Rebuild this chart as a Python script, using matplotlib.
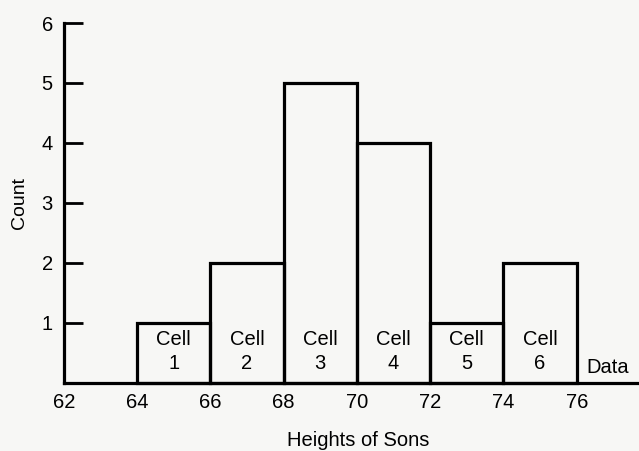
import matplotlib.pyplot as plt
import numpy as np

# ── Data ────────────────────────────────────────────────────────────────────
bin_edges = [64, 66, 68, 70, 72, 74, 76]
counts = [1, 2, 5, 4, 1, 2]
cell_labels = ["1", "2", "3", "4", "5", "6"]
x_ticks = [62, 64, 66, 68, 70, 72, 74, 76]
y_ticks = [1, 2, 3, 4, 5, 6]

plt.rcParams.update({
    "font.family": ["Liberation Sans", "DejaVu Sans"],
    "font.size": 14.5,
})

fig = plt.figure(figsize=(6.39, 4.51), dpi=100, facecolor="#f7f7f5")
ax = fig.add_axes([0.100, 0.151, 0.900, 0.798])
ax.set_facecolor("#f7f7f5")

lefts = np.array(bin_edges[:-1])
widths = np.diff(bin_edges)
ax.bar(lefts, counts, width=widths, align="edge", fill=False,
       edgecolor="black", linewidth=2.3, zorder=3, clip_on=False)

# cell labels inside each bar
for left, w, lab in zip(lefts, widths, cell_labels):
    cx = left + w / 2
    ax.text(cx, 0.72, "Cell", ha="center", va="center", fontsize=14.5)
    ax.text(cx, 0.33, lab, ha="center", va="center", fontsize=14.5)

ax.text(76.27, 0.25, "Data", ha="left", va="center", fontsize=14.5)

ax.set_xlim(62, 77.7)
ax.set_ylim(0, 6)

ax.set_xticks(x_ticks)
ax.set_yticks(y_ticks)
ax.tick_params(axis="x", length=0, pad=7, labelsize=14.5)
ax.tick_params(axis="y", direction="in", length=14, width=2, pad=8, labelsize=14.5)

for side in ("top", "right"):
    ax.spines[side].set_visible(False)
for side in ("left", "bottom"):
    ax.spines[side].set_linewidth(2.3)

ax.set_xlabel("Heights of Sons", fontsize=14.5, labelpad=10)
ax.xaxis.set_label_coords(0.512, -0.135)
ax.set_ylabel("Count", fontsize=14, labelpad=10)

fig.savefig("out.png", dpi=100, facecolor=fig.get_facecolor())
